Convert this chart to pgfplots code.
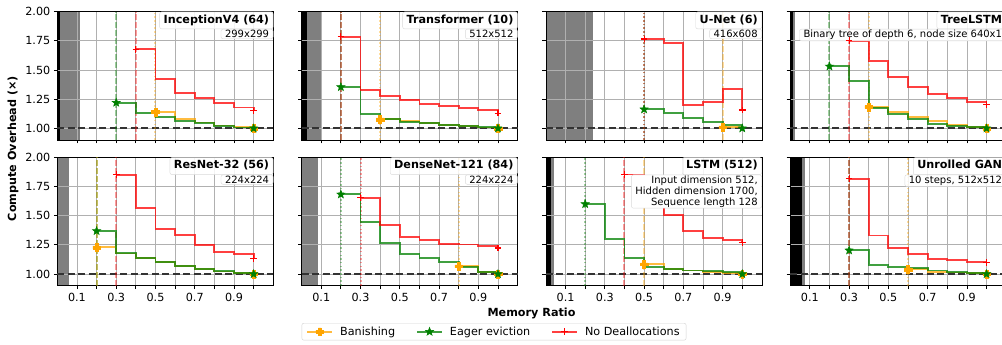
\documentclass[border=0pt]{standalone}
\usepackage{fontspec}
\setmainfont{DejaVu Sans}
\usepackage{pgfplots}
\pgfplotsset{compat=1.18}
\usetikzlibrary{plotmarks}

\definecolor{gridc}{HTML}{B0B0B0}
\definecolor{cban}{HTML}{FFA500}
\definecolor{ceag}{HTML}{008000}
\definecolor{cnod}{HTML}{FF0000}

\newcommand\fmain{\fontsize{11.2bp}{13bp}\selectfont}
\newcommand\fsub{\fontsize{10bp}{10.8bp}\selectfont}

\pgfdeclareplotmark{fstar}{%
 \pgfpathmoveto{\pgfpointpolar{90}{\pgfplotmarksize}}%
 \pgfpathlineto{\pgfpointpolar{126}{0.42*\pgfplotmarksize}}%
 \pgfpathlineto{\pgfpointpolar{162}{\pgfplotmarksize}}%
 \pgfpathlineto{\pgfpointpolar{198}{0.42*\pgfplotmarksize}}%
 \pgfpathlineto{\pgfpointpolar{234}{\pgfplotmarksize}}%
 \pgfpathlineto{\pgfpointpolar{270}{0.42*\pgfplotmarksize}}%
 \pgfpathlineto{\pgfpointpolar{306}{\pgfplotmarksize}}%
 \pgfpathlineto{\pgfpointpolar{342}{0.42*\pgfplotmarksize}}%
 \pgfpathlineto{\pgfpointpolar{18}{\pgfplotmarksize}}%
 \pgfpathlineto{\pgfpointpolar{54}{0.42*\pgfplotmarksize}}%
 \pgfpathclose\pgfusepathqfillstroke}

\pgfdeclareplotmark{fplus}{%
 \pgfpathmoveto{\pgfpoint{0.38*\pgfplotmarksize}{\pgfplotmarksize}}%
 \pgfpathlineto{\pgfpoint{0.38*\pgfplotmarksize}{0.38*\pgfplotmarksize}}%
 \pgfpathlineto{\pgfpoint{\pgfplotmarksize}{0.38*\pgfplotmarksize}}%
 \pgfpathlineto{\pgfpoint{\pgfplotmarksize}{-0.38*\pgfplotmarksize}}%
 \pgfpathlineto{\pgfpoint{0.38*\pgfplotmarksize}{-0.38*\pgfplotmarksize}}%
 \pgfpathlineto{\pgfpoint{0.38*\pgfplotmarksize}{-\pgfplotmarksize}}%
 \pgfpathlineto{\pgfpoint{-0.38*\pgfplotmarksize}{-\pgfplotmarksize}}%
 \pgfpathlineto{\pgfpoint{-0.38*\pgfplotmarksize}{-0.38*\pgfplotmarksize}}%
 \pgfpathlineto{\pgfpoint{-\pgfplotmarksize}{-0.38*\pgfplotmarksize}}%
 \pgfpathlineto{\pgfpoint{-\pgfplotmarksize}{0.38*\pgfplotmarksize}}%
 \pgfpathlineto{\pgfpoint{-0.38*\pgfplotmarksize}{0.38*\pgfplotmarksize}}%
 \pgfpathlineto{\pgfpoint{-0.38*\pgfplotmarksize}{\pgfplotmarksize}}%
 \pgfpathclose\pgfusepathqfillstroke}

\tikzset{
 tbox/.style={anchor=north east, fill=white, fill opacity=0.85, text opacity=1, draw=gray!30, rounded corners=2bp,
   inner xsep=4bp, inner ysep=3.2bp, text height=8.2bp, text depth=2.4bp, font=\fmain\bfseries},
 sbox/.style={anchor=north east, fill=white, fill opacity=0.85, text opacity=1, draw=gray!30, rounded corners=2bp,
   inner xsep=4bp, inner ysep=1bp, align=right, font=\fsub, yshift=-17.3bp},
}

\pgfplotsset{
 panel/.style={
  scale only axis, width=216bp, height=128.3bp,
  xmin=0, xmax=1.1, ymin=0.9, ymax=2.0,
  xtick={0.1,0.2,0.3,0.4,0.5,0.6,0.7,0.8,0.9,1.0},
  ytick={1,1.25,1.5,1.75,2},
  xticklabels={},
  set layers,
  grid=major, grid style={gridc, line width=0.8bp},
  tick align=outside, major tick length=3.5bp, tick pos=left,
  tick style={black, line width=0.8bp},
  axis line style={line width=0.8bp},
  tick label style={font=\fmain},
  clip=false, anchor=south west,
 },
 xlab/.style={xticklabels={0.1,,0.3,,0.5,,0.7,,0.9,}},
 ylab/.style={yticklabel style={/pgf/number format/.cd,fixed,fixed zerofill,precision=2,assume math mode=true}},
 noylab/.style={yticklabels={}},
 ban/.style={const plot, color=cban, line width=1.8bp, draw opacity=0.75, mark=fplus, mark size=3.8bp,
   mark options={solid, fill=cban, draw=cban, draw opacity=1, fill opacity=1, line width=0.5bp}},
 eag/.style={const plot, color=ceag, line width=1.8bp, draw opacity=0.75, mark=fstar, mark size=4.3bp,
   mark options={solid, fill=ceag, draw=ceag, draw opacity=1, fill opacity=1, line width=0.5bp}},
 nod/.style={const plot, color=cnod, line width=1.8bp, draw opacity=0.75, mark=+, mark size=3.3bp,
   mark options={solid, draw=cnod, draw opacity=1, line width=1.1bp}},
 vdash/.style={forget plot, line width=2bp, draw opacity=0.38, dash pattern=on 5.5bp off 2.5bp},
 vdot/.style={forget plot, line width=2bp, draw opacity=0.38, dash pattern=on 1.5bp off 2.2bp},
 hl/.style={forget plot, black!80, line width=2bp, dash pattern=on 7bp off 3.5bp},
 spanb/.style={forget plot, fill=black, draw=none, on layer=axis background},
 spang/.style={forget plot, fill=black, fill opacity=0.5, draw=none, on layer=axis background},
}

\begin{document}
\begin{tikzpicture}

% ---------------- Row 1 ----------------
\begin{axis}[panel, ylab, at={(57.3bp,205bp)}]
\addplot[spanb] coordinates {(0,0.9) (0.015,0.9) (0.015,2) (0,2)};
\addplot[spang] coordinates {(0.015,0.9) (0.118,0.9) (0.118,2) (0.015,2)};
\addplot[hl] coordinates {(0,1) (1.1,1)};
\addplot[vdash, ceag] coordinates {(0.3,0.9) (0.3,2)};
\addplot[vdash, cnod] coordinates {(0.4,0.9) (0.4,2)};
\addplot[vdot, cban] coordinates {(0.5,0.9) (0.5,2)};
\addplot[ban, forget plot, mark indices={1,6}] coordinates {(0.5,1.14) (0.6,1.078) (0.7,1.05) (0.8,1.025) (0.9,1.009) (1.0,1.0)};
\addplot[eag, forget plot, mark indices={1,8}] coordinates {(0.3,1.22) (0.4,1.13) (0.5,1.094) (0.6,1.066) (0.7,1.045) (0.8,1.021) (0.9,1.007) (1.0,1.0)};
\addplot[nod, forget plot, mark indices={1,7}] coordinates {(0.4,1.677) (0.5,1.42) (0.6,1.30) (0.7,1.257) (0.8,1.217) (0.9,1.178) (1.0,1.15)};
\node[tbox] at (rel axis cs:1,1) {InceptionV4 (64)};
\node[sbox] at (rel axis cs:1,1) {299x299};
\end{axis}

\begin{axis}[panel, noylab, at={(301.6bp,205bp)}]
\addplot[spanb] coordinates {(0,0.9) (0.025,0.9) (0.025,2) (0,2)};
\addplot[spang] coordinates {(0.025,0.9) (0.103,0.9) (0.103,2) (0.025,2)};
\addplot[hl] coordinates {(0,1) (1.1,1)};
\addplot[vdash, ceag] coordinates {(0.2,0.9) (0.2,2)};
\addplot[vdash, cnod] coordinates {(0.2,0.9) (0.2,2)};
\addplot[vdot, cban] coordinates {(0.4,0.9) (0.4,2)};
\addplot[ban, forget plot, mark indices={1,7}] coordinates {(0.4,1.077) (0.5,1.06) (0.6,1.045) (0.7,1.03) (0.8,1.02) (0.9,1.008) (1.0,1.0)};
\addplot[eag, forget plot, mark indices={1,9}] coordinates {(0.2,1.354) (0.3,1.123) (0.4,1.083) (0.5,1.057) (0.6,1.043) (0.7,1.031) (0.8,1.02) (0.9,1.009) (1.0,1.0)};
\addplot[nod, forget plot, mark indices={1,9}] coordinates {(0.2,1.786) (0.3,1.326) (0.4,1.28) (0.5,1.24) (0.6,1.209) (0.7,1.19) (0.8,1.174) (0.9,1.154) (1.0,1.13)};
\node[tbox] at (rel axis cs:1,1) {Transformer (10)};
\node[sbox] at (rel axis cs:1,1) {512x512};
\end{axis}

\begin{axis}[panel, noylab, at={(545.9bp,205bp)}]
\addplot[spang] coordinates {(0,0.9) (0.241,0.9) (0.241,2) (0,2)};
\addplot[hl] coordinates {(0,1) (1.1,1)};
\addplot[vdot, ceag] coordinates {(0.5,0.9) (0.5,2)};
\addplot[vdot, cnod] coordinates {(0.5,0.9) (0.5,2)};
\addplot[vdash, cban] coordinates {(0.9,0.9) (0.9,2)};
\addplot[ban, forget plot, mark indices={1}] coordinates {(0.9,1.009) (1.0,1.0)};
\addplot[eag, forget plot, mark indices={1,6}] coordinates {(0.5,1.163) (0.6,1.129) (0.7,1.086) (0.8,1.054) (0.9,1.029) (1.0,1.0)};
\addplot[nod, forget plot, mark indices={1,6}] coordinates {(0.5,1.766) (0.6,1.734) (0.7,1.197) (0.8,1.223) (0.9,1.334) (1.0,1.157)};
\node[tbox] at (rel axis cs:1,1) {U-Net (6)};
\node[sbox] at (rel axis cs:1,1) {416x608};
\end{axis}

\begin{axis}[panel, noylab, at={(790.2bp,205bp)}]
\addplot[spanb] coordinates {(0,0.9) (0.015,0.9) (0.015,2) (0,2)};
\addplot[spang] coordinates {(0.015,0.9) (0.026,0.9) (0.026,2) (0.015,2)};
\addplot[hl] coordinates {(0,1) (1.1,1)};
\addplot[vdash, ceag] coordinates {(0.2,0.9) (0.2,2)};
\addplot[vdash, cnod] coordinates {(0.3,0.9) (0.3,2)};
\addplot[vdot, cban] coordinates {(0.4,0.9) (0.4,2)};
\addplot[ban, forget plot, mark indices={1,7}] coordinates {(0.4,1.183) (0.5,1.137) (0.6,1.10) (0.7,1.06) (0.8,1.029) (0.9,1.014) (1.0,1.0)};
\addplot[eag, forget plot, mark indices={1,9}] coordinates {(0.2,1.531) (0.3,1.406) (0.4,1.177) (0.5,1.123) (0.6,1.077) (0.7,1.037) (0.8,1.017) (0.9,1.009) (1.0,1.0)};
\addplot[nod, forget plot, mark indices={1,8}] coordinates {(0.3,1.751) (0.4,1.577) (0.5,1.437) (0.6,1.354) (0.7,1.297) (0.8,1.257) (0.9,1.229) (1.0,1.206)};
\node[tbox] at (rel axis cs:1,1) {TreeLSTM};
\node[sbox] at (rel axis cs:1,1) {Binary tree of depth 6, node size 640x1};
\end{axis}

% ---------------- Row 2 ----------------
\begin{axis}[panel, ylab, xlab, at={(57.3bp,59.3bp)}]
\addplot[spang] coordinates {(0,0.9) (0.059,0.9) (0.059,2) (0,2)};
\addplot[hl] coordinates {(0,1) (1.1,1)};
\addplot[vdash, ceag] coordinates {(0.2,0.9) (0.2,2)};
\addplot[vdash, cban] coordinates {(0.2,0.9) (0.2,2)};
\addplot[vdash, cnod] coordinates {(0.3,0.9) (0.3,2)};
\addplot[ban, forget plot, mark indices={1,9}] coordinates {(0.2,1.229) (0.3,1.176) (0.4,1.135) (0.5,1.10) (0.6,1.07) (0.7,1.045) (0.8,1.022) (0.9,1.01) (1.0,1.0)};
\addplot[eag, forget plot, mark indices={1,9}] coordinates {(0.2,1.369) (0.3,1.18) (0.4,1.137) (0.5,1.103) (0.6,1.071) (0.7,1.046) (0.8,1.023) (0.9,1.011) (1.0,1.0)};
\addplot[nod, forget plot, mark indices={1,8}] coordinates {(0.3,1.851) (0.4,1.566) (0.5,1.389) (0.6,1.334) (0.7,1.246) (0.8,1.191) (0.9,1.169) (1.0,1.134)};
\node[tbox] at (rel axis cs:1,1) {ResNet-32 (56)};
\node[sbox] at (rel axis cs:1,1) {224x224};
\end{axis}

\begin{axis}[panel, noylab, xlab, at={(301.6bp,59.3bp)},
  legend image code/.code={\draw[sharp plot, mark repeat=2, mark phase=2] plot coordinates {(0bp,0bp) (12.5bp,0bp) (25bp,0bp)};},
  legend style={at={(0.8907,-0.3585)}, anchor=center, legend columns=3, draw=gray!35, rounded corners=2bp,
    font=\fmain, inner xsep=4.5bp, inner ysep=1.5bp,
    /tikz/every odd column/.append style={column sep=5bp},
    /tikz/every even column/.append style={column sep=19bp}}]
\addplot[spang] coordinates {(0,0.9) (0.081,0.9) (0.081,2) (0,2)};
\addplot[hl] coordinates {(0,1) (1.1,1)};
\addplot[vdot, ceag] coordinates {(0.2,0.9) (0.2,2)};
\addplot[vdot, cnod] coordinates {(0.3,0.9) (0.3,2)};
\addplot[vdot, cban] coordinates {(0.8,0.9) (0.8,2)};
\addplot[ban, forget plot, mark indices={1,3}] coordinates {(0.8,1.067) (0.9,1.02) (1.0,1.0)};
\addplot[eag, forget plot, mark indices={1,9}] coordinates {(0.2,1.683) (0.3,1.446) (0.4,1.269) (0.5,1.174) (0.6,1.14) (0.7,1.10) (0.8,1.06) (0.9,1.02) (1.0,1.0)};
\addplot[nod, forget plot, mark indices={1,8}] coordinates {(0.3,1.654) (0.4,1.417) (0.5,1.32) (0.6,1.289) (0.7,1.26) (0.8,1.254) (0.9,1.24) (1.0,1.223)};
\node[tbox] at (rel axis cs:1,1) {DenseNet-121 (84)};
\node[sbox] at (rel axis cs:1,1) {224x224};
\addlegendimage{ban}
\addlegendentry{Banishing}
\addlegendimage{eag}
\addlegendentry{Eager eviction}
\addlegendimage{nod}
\addlegendentry{No Deallocations}
\end{axis}

\begin{axis}[panel, noylab, xlab, at={(545.9bp,59.3bp)}]
\addplot[spanb] coordinates {(0,0.9) (0.026,0.9) (0.026,2) (0,2)};
\addplot[spang] coordinates {(0.026,0.9) (0.043,0.9) (0.043,2) (0.026,2)};
\addplot[hl] coordinates {(0,1) (1.1,1)};
\addplot[vdot, ceag] coordinates {(0.2,0.9) (0.2,2)};
\addplot[vdash, cnod] coordinates {(0.4,0.9) (0.4,2)};
\addplot[vdash, cban] coordinates {(0.5,0.9) (0.5,2)};
\addplot[ban, forget plot, mark indices={1,6}] coordinates {(0.5,1.084) (0.6,1.045) (0.7,1.03) (0.8,1.018) (0.9,1.01) (1.0,1.0)};
\addplot[eag, forget plot, mark indices={1,9}] coordinates {(0.2,1.60) (0.3,1.30) (0.4,1.14) (0.5,1.063) (0.6,1.04) (0.7,1.031) (0.8,1.026) (0.9,1.017) (1.0,1.0)};
\addplot[nod, forget plot, mark indices={1,7}] coordinates {(0.4,1.854) (0.5,1.66) (0.6,1.503) (0.7,1.369) (0.8,1.311) (0.9,1.289) (1.0,1.269)};
\node[tbox] at (rel axis cs:1,1) {LSTM (512)};
\node[sbox, fill opacity=1] at (rel axis cs:1,1) {Input dimension 512,\\Hidden dimension 1700,\\Sequence length 128};
\end{axis}

\begin{axis}[panel, noylab, xlab, at={(790.2bp,59.3bp)}]
\addplot[spanb] coordinates {(0,0.9) (0.059,0.9) (0.059,2) (0,2)};
\addplot[spang] coordinates {(0.059,0.9) (0.076,0.9) (0.076,2) (0.059,2)};
\addplot[hl] coordinates {(0,1) (1.1,1)};
\addplot[vdash, ceag] coordinates {(0.3,0.9) (0.3,2)};
\addplot[vdash, cnod] coordinates {(0.3,0.9) (0.3,2)};
\addplot[vdot, cban] coordinates {(0.6,0.9) (0.6,2)};
\addplot[ban, forget plot, mark indices={1,5}] coordinates {(0.6,1.04) (0.7,1.02) (0.8,1.014) (0.9,1.006) (1.0,1.0)};
\addplot[eag, forget plot, mark indices={1,8}] coordinates {(0.3,1.203) (0.4,1.08) (0.5,1.063) (0.6,1.051) (0.7,1.031) (0.8,1.017) (0.9,1.009) (1.0,1.0)};
\addplot[nod, forget plot, mark indices={1,8}] coordinates {(0.3,1.817) (0.4,1.331) (0.5,1.22) (0.6,1.169) (0.7,1.126) (0.8,1.117) (0.9,1.10) (1.0,1.097)};
\node[tbox] at (rel axis cs:1,1) {Unrolled GAN};
\node[sbox] at (rel axis cs:1,1) {10 steps, 512x512};
\end{axis}

\node[rotate=90, font=\fmain\bfseries] at (13bp,196.3bp) {Compute Overhead (×)};
\node[font=\fmain\bfseries] at (531.5bp,32bp) {Memory Ratio};

\pgfresetboundingbox
\path[use as bounding box] (0bp,0bp) rectangle (1002bp,345bp);
\end{tikzpicture}
\end{document}
